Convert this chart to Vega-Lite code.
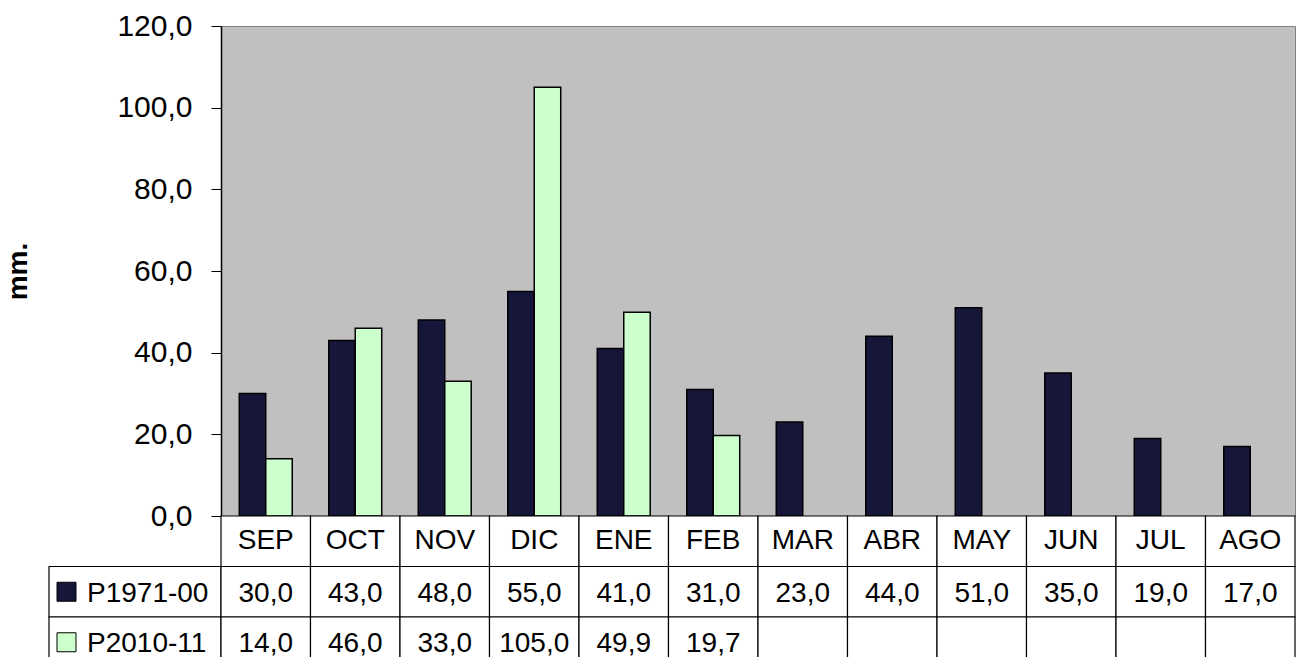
{
  "$schema": "https://vega.github.io/schema/vega-lite/v6.json",
  "autosize": {"type": "pad"},
  "padding": {"left": 4, "top": 10, "right": 0, "bottom": 0},
  "background": "white",
  "config": {
    "font": "Liberation Sans",
    "locale": {"number": {"decimal": ",", "thousands": ".", "grouping": [3], "currency": ["", " €"]}},
    "view": {"stroke": null},
    "text": {"color": "black"}
  },
  "datasets": {
    "bars": [
      {"month": "SEP", "serie": "P1971-00", "value": 30.0},
      {"month": "OCT", "serie": "P1971-00", "value": 43.0},
      {"month": "NOV", "serie": "P1971-00", "value": 48.0},
      {"month": "DIC", "serie": "P1971-00", "value": 55.0},
      {"month": "ENE", "serie": "P1971-00", "value": 41.0},
      {"month": "FEB", "serie": "P1971-00", "value": 31.0},
      {"month": "MAR", "serie": "P1971-00", "value": 23.0},
      {"month": "ABR", "serie": "P1971-00", "value": 44.0},
      {"month": "MAY", "serie": "P1971-00", "value": 51.0},
      {"month": "JUN", "serie": "P1971-00", "value": 35.0},
      {"month": "JUL", "serie": "P1971-00", "value": 19.0},
      {"month": "AGO", "serie": "P1971-00", "value": 17.0},
      {"month": "SEP", "serie": "P2010-11", "value": 14.0},
      {"month": "OCT", "serie": "P2010-11", "value": 46.0},
      {"month": "NOV", "serie": "P2010-11", "value": 33.0},
      {"month": "DIC", "serie": "P2010-11", "value": 105.0},
      {"month": "ENE", "serie": "P2010-11", "value": 49.9},
      {"month": "FEB", "serie": "P2010-11", "value": 19.7},
      {"month": "MAR", "serie": "P2010-11", "value": null},
      {"month": "ABR", "serie": "P2010-11", "value": null},
      {"month": "MAY", "serie": "P2010-11", "value": null},
      {"month": "JUN", "serie": "P2010-11", "value": null},
      {"month": "JUL", "serie": "P2010-11", "value": null},
      {"month": "AGO", "serie": "P2010-11", "value": null}
    ],
    "months": [
      {"month": "SEP"}, {"month": "OCT"}, {"month": "NOV"}, {"month": "DIC"},
      {"month": "ENE"}, {"month": "FEB"}, {"month": "MAR"}, {"month": "ABR"},
      {"month": "MAY"}, {"month": "JUN"}, {"month": "JUL"}, {"month": "AGO"}
    ],
    "series": [{"serie": "P1971-00"}, {"serie": "P2010-11"}]
  },
  "columns": 2,
  "bounds": "flush",
  "spacing": 0,
  "concat": [
    {
      "width": 172,
      "height": 490,
      "data": {"values": []},
      "mark": "point",
      "encoding": {}
    },
    {
      "width": 1074,
      "height": 490,
      "view": {"fill": "#c0c0c0", "stroke": "#808080"},
      "data": {"name": "bars"},
      "mark": {"type": "bar", "stroke": "black", "strokeWidth": 1.5},
      "encoding": {
        "x": {"field": "month", "type": "nominal", "sort": ["SEP", "OCT", "NOV", "DIC", "ENE", "FEB", "MAR", "ABR", "MAY", "JUN", "JUL", "AGO"], "scale": {"paddingInner": 0, "paddingOuter": 0}, "axis": null},
        "xOffset": {"field": "serie", "type": "nominal", "scale": {"paddingInner": 0, "paddingOuter": 0.69}},
        "y": {
          "field": "value", "type": "quantitative",
          "scale": {"domain": [0, 120], "nice": false},
          "axis": {
            "title": "mm.", "values": [0, 20, 40, 60, 80, 100, 120], "format": ".1f", "grid": false,
            "tickSize": 10, "tickColor": "black", "domainColor": "black", "domainWidth": 1.5,
            "labelFontSize": 30, "labelColor": "black", "labelPadding": 19,
            "titleFontSize": 28, "titleFontWeight": "bold", "titleColor": "black", "titlePadding": 84
          }
        },
        "fill": {"field": "serie", "type": "nominal", "scale": {"domain": ["P1971-00", "P2010-11"], "range": ["#16163a", "#ccffcc"]}, "legend": null}
      }
    },
    {
      "width": 172,
      "height": 142,
      "data": {"name": "series"},
      "encoding": {
        "y": {"field": "serie", "type": "nominal", "scale": {"domain": ["mes", "P1971-00", "P2010-11"], "range": [0, 151.5], "paddingInner": 0, "paddingOuter": 0}, "axis": null}
      },
      "layer": [
        {"mark": {"type": "rect", "fill": "white", "stroke": "black", "strokeWidth": 1.2}},
        {
          "mark": {"type": "point", "shape": "square", "size": 361, "filled": true, "opacity": 1, "stroke": "black", "strokeWidth": 1, "xOffset": -68.5},
          "encoding": {"fill": {"field": "serie", "type": "nominal", "scale": {"domain": ["P1971-00", "P2010-11"], "range": ["#16163a", "#ccffcc"]}, "legend": null}}
        },
        {
          "mark": {"type": "text", "align": "left", "dx": -48, "dy": 2, "fontSize": 28},
          "encoding": {"text": {"field": "serie"}}
        }
      ]
    },
    {
      "width": 1074,
      "height": 142,
      "encoding": {
        "x": {"field": "month", "type": "nominal", "sort": ["SEP", "OCT", "NOV", "DIC", "ENE", "FEB", "MAR", "ABR", "MAY", "JUN", "JUL", "AGO"], "scale": {"paddingInner": 0, "paddingOuter": 0}, "axis": null}
      },
      "layer": [
        {
          "data": {"name": "months"},
          "mark": {"type": "rect", "fill": "white", "stroke": "black", "strokeWidth": 1.2},
          "encoding": {"y": {"datum": "mes", "type": "nominal", "scale": {"domain": ["mes", "P1971-00", "P2010-11"], "range": [0, 151.5], "paddingInner": 0, "paddingOuter": 0}, "axis": null}}
        },
        {
          "data": {"name": "months"},
          "mark": {"type": "text", "fontSize": 28},
          "encoding": {"y": {"datum": "mes", "type": "nominal"}, "text": {"field": "month"}}
        },
        {
          "data": {"name": "bars"},
          "mark": {"type": "rect", "fill": "white", "stroke": "black", "strokeWidth": 1.2},
          "encoding": {"y": {"field": "serie", "type": "nominal"}}
        },
        {
          "data": {"name": "bars"},
          "mark": {"type": "text", "fontSize": 28, "dy": 2},
          "encoding": {
            "y": {"field": "serie", "type": "nominal"},
            "text": {"condition": {"test": "datum.value == null", "value": ""}, "field": "value", "type": "quantitative", "format": ".1f"}
          }
        }
      ]
    }
  ]
}
